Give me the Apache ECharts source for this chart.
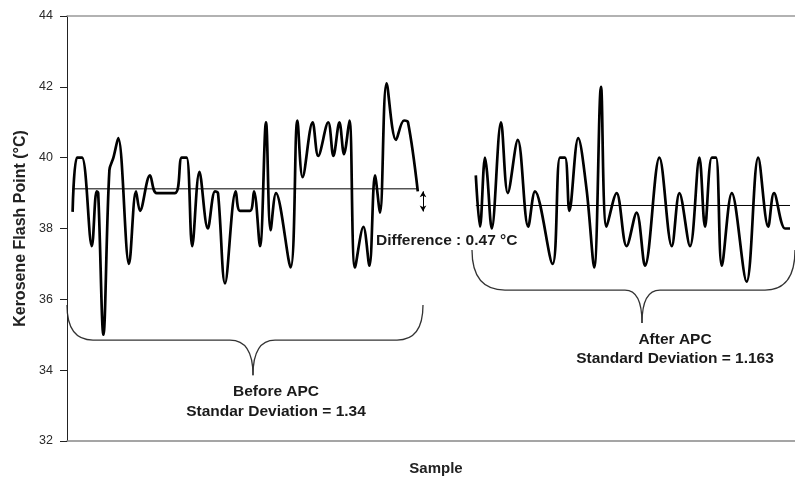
<!DOCTYPE html>
<html>
<head>
<meta charset="utf-8">
<script src="https://cdn.jsdelivr.net/npm/echarts@6/dist/echarts.min.js"></script>
<style>html,body{margin:0;padding:0;background:#fff}#c{width:795px;height:478px}</style>
</head>
<body>
<div id="c"></div>
<script>
// ---- data (sample index, flash point °C) ----
const beforeAPC = [
  [1.4,38.47],[2.5,40.0],[3.75,40.0],[6.2,37.5],[7.4,39.05],[7.8,39.0],[9.1,35.0],
  [10.6,39.65],[11.6,40.0],[12.8,40.55],[15.5,37.0],[17.25,39.05],[18.25,38.5],
  [20.75,39.5],[22.4,39.0],[27,39.0],[28.7,40.0],[29.9,40.0],[31.3,37.5],[33.1,39.6],
  [35.2,38.0],[37,39.05],[37.75,39.0],[39.5,36.45],[42.2,39.05],[43.25,38.5],
  [45.75,38.5],[46.75,39.05],[48.25,37.5],[49.75,41.0],[50.9,37.95],[52.25,39.0],
  [55.9,36.9],[57.6,41.05],[58.9,39.45],[61.4,41.0],[62.8,40.05],[65.3,41.0],
  [66.6,40.05],[68.1,41.0],[69.25,40.1],[70.6,41.05],[72,36.9],[74.1,38.05],
  [75.6,36.95],[77,39.5],[78.25,38.45],[79.9,42.1],[82.25,40.5],[84.25,41.05],
  [85.25,41.0],[87.7,39.05]
];
const afterAPC = [
  [102.2,39.5],[103.25,38.05],[104.5,40.0],[105,39.6],[106.2,38.0],[108.5,41.0],
  [110.2,39.0],[112.7,40.5],[115.3,38.05],[117,39.05],[121.4,37.0],[123.25,40.0],
  [124.5,40.0],[125.6,38.5],[127.8,40.55],[129.9,39.1],[131.8,36.9],[133.5,42.0],
  [134.9,38.05],[137.4,39.0],[139.9,37.5],[142.4,38.45],[144.5,36.95],[148.1,40.0],
  [151.2,37.5],[153.1,39.0],[155.75,37.5],[158.1,40.0],[159.5,38.05],[161.2,40.0],
  [162.25,40.0],[163.7,36.95],[166.2,39.0],[169.9,36.5],[172.8,40.0],[175.3,38.05],
  [176.75,39.0],[179.5,38.0],[180.75,38.0]
];
const meanBefore = 39.12;
const meanAfter = 38.65;
const yTicks = [32, 34, 36, 38, 40, 42, 44];
const beforeLabel = ['Before APC', 'Standar Deviation = 1.34'];
const afterLabel = ['After APC', 'Standard Deviation = 1.163'];
const diffLabel = 'Difference : 0.47 °C';

const FONT = 'Arial, "Liberation Sans", Helvetica, sans-serif';
const chart = echarts.init(document.getElementById('c'), null, {renderer: 'canvas'});

function meanSeg(arr, m) { return [[arr[0][0], m], [arr[arr.length - 1][0], m]]; }

const option = {
  animation: false,
  backgroundColor: '#fff',
  grid: {left: 67, right: 0, top: 16, bottom: 37, containLabel: false, outerBoundsMode: 'none'},
  xAxis: [{
    type: 'value', min: 0, max: 182, position: 'bottom',
    name: 'Sample', nameLocation: 'middle', nameGap: 20,
    nameTextStyle: {fontFamily: FONT, fontWeight: 'bold', fontSize: 15, color: '#222', padding: [0, 0, 0, 10]},
    axisLine: {show: true, lineStyle: {color: '#888', width: 1.5}},
    axisTick: {show: false}, axisLabel: {show: false}, splitLine: {show: false}
  }, {
    type: 'value', min: 0, max: 182, position: 'top',
    axisLine: {show: true, onZero: false, lineStyle: {color: '#999', width: 1.5}},
    axisTick: {show: false}, axisLabel: {show: false}, splitLine: {show: false}
  }],
  yAxis: {
    type: 'value', min: yTicks[0], max: yTicks[yTicks.length - 1], interval: 2,
    name: 'Kerosene Flash Point (°C)', nameLocation: 'middle', nameGap: 32, nameRotate: 90,
    nameTextStyle: {fontFamily: FONT, fontWeight: 'bold', fontSize: 16, color: '#222'},
    axisLine: {show: true, lineStyle: {color: '#222', width: 1}},
    axisTick: {show: true, inside: false, length: 7, lineStyle: {color: '#222'}},
    axisLabel: {fontFamily: FONT, fontSize: 12.5, color: '#2a2a2a', margin: 14},
    splitLine: {show: false}
  },
  series: [
    {type: 'line', data: beforeAPC, smooth: 0.35, symbol: 'none',
     lineStyle: {color: '#000', width: 2.7}},
    {type: 'line', data: afterAPC, smooth: 0.35, symbol: 'none',
     lineStyle: {color: '#000', width: 2.7}},
    {type: 'line', data: meanSeg(beforeAPC, meanBefore), symbol: 'none',
     lineStyle: {color: '#000', width: 1},
     markLine: {
       silent: true, symbol: ['arrow', 'arrow'], symbolSize: [5, 6],
       label: {show: false}, lineStyle: {color: '#000', width: 1, type: 'solid'},
       data: [[{coord: [89, 39.05]}, {coord: [89, 38.48]}]]
     }},
    {type: 'line', data: meanSeg(afterAPC, meanAfter), symbol: 'none',
     lineStyle: {color: '#000', width: 1}}
  ]
};
chart.setOption(option);

// ---- annotations anchored in data space ----
function px(x, y) { return chart.convertToPixel({gridIndex: 0}, [x, y]); }
const braceStyle = {stroke: '#333', lineWidth: 1.3, fill: null};
function qc(p0, cp, p1) {
  return {type: 'bezierCurve', silent: true,
    shape: {x1: p0[0], y1: p0[1], cpx1: cp[0], cpy1: cp[1], x2: p1[0], y2: p1[1]},
    style: braceStyle};
}
function ln(p0, p1) {
  return {type: 'line', silent: true,
    shape: {x1: p0[0], y1: p0[1], x2: p1[0], y2: p1[1]}, style: braceStyle};
}
function brace(x0, x1, x2, tipX, x3, x4, x5, yTop, yMid, yTip) {
  const a = px(x0, yTop), b = px(x1, yMid), c = px(x2, yMid), t = px(tipX, yTip),
        d = px(x3, yMid), e = px(x4, yMid), f = px(x5, yTop);
  return [
    qc(a, [a[0], b[1]], b), ln(b, c), qc(c, [t[0], c[1]], t),
    qc(t, [t[0], d[1]], d), ln(d, e), qc(e, [f[0], e[1]], f)
  ];
}
function txt(x, y, s, align) {
  const p = px(x, y);
  return {type: 'text', x: p[0], y: p[1], silent: true,
    style: {text: s, fontFamily: FONT, fontWeight: 'bold', fontSize: 15.5, fill: '#1a1a1a',
            align: align || 'center', verticalAlign: 'middle'}};
}
chart.setOption({
  graphic: [].concat(
    brace(0, 6.5, 40.75, 46.5, 52, 82.5, 89, 35.84, 34.85, 33.86),
    brace(101.25, 109.5, 139.5, 143.75, 148.25, 174.5, 182, 37.39, 36.26, 35.33),
    [
      txt(52.25, 33.39, beforeLabel[0]),
      txt(52.25, 32.83, beforeLabel[1]),
      txt(152, 34.85, afterLabel[0]),
      txt(152, 34.33, afterLabel[1]),
      txt(77.25, 37.65, diffLabel, 'left')
    ]
  )
});
</script>
</body>
</html>
